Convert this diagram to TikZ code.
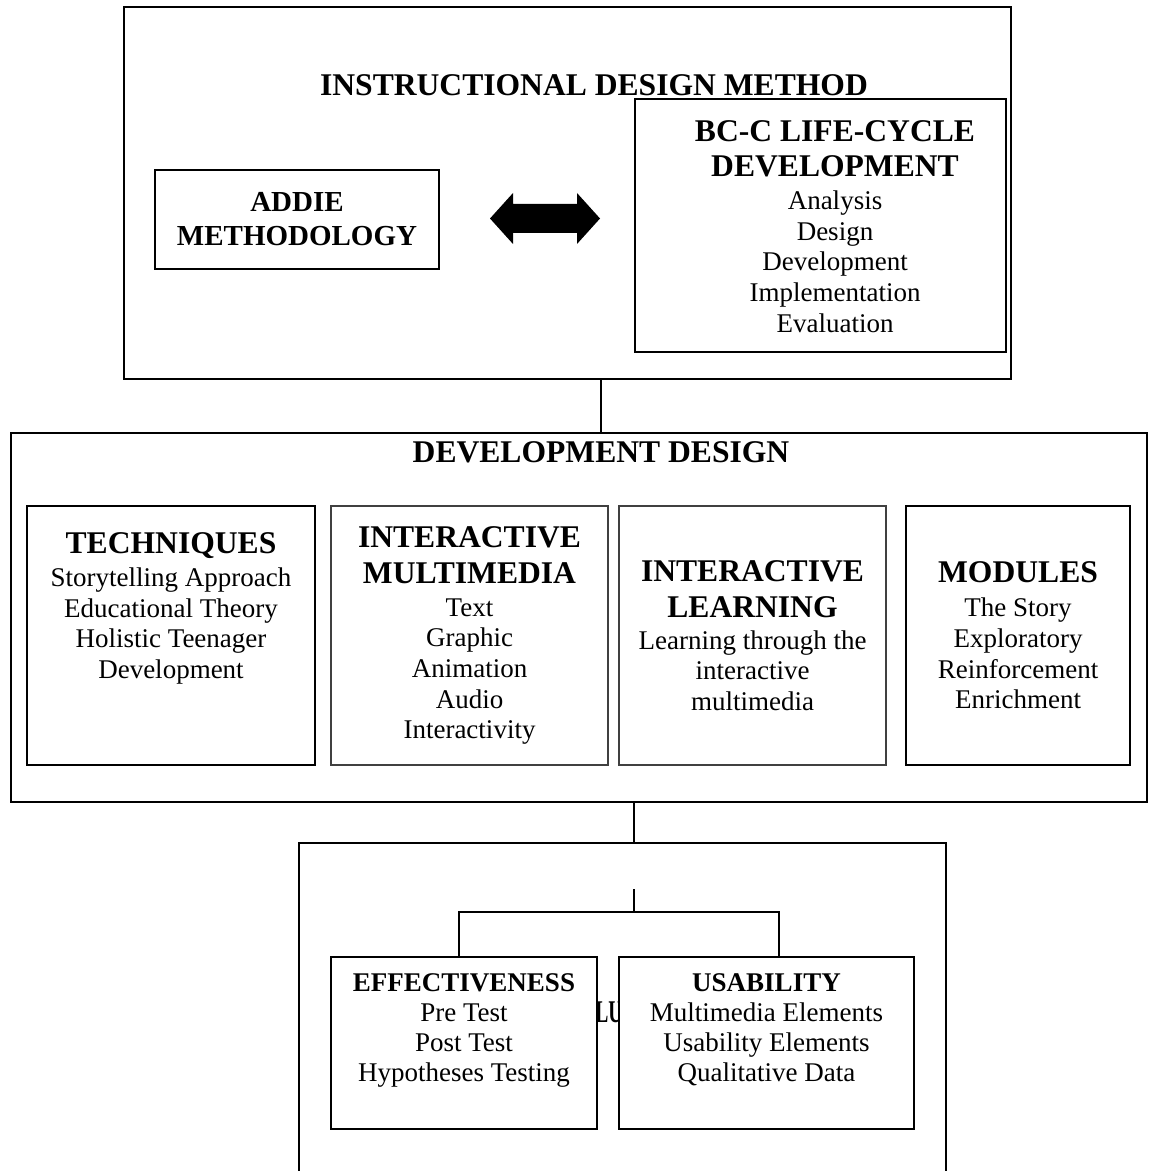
\documentclass[tikz,border=0pt]{standalone}
\usepackage{fontspec}
\setmainfont{Liberation Serif}
\usetikzlibrary{calc}

\newcommand\bodysize{\fontsize{13.5pt}{15.3pt}\selectfont}
\newcommand\headsize{\fontsize{15.8pt}{17.6pt}\selectfont\bfseries}
\newcommand\addiesize{\fontsize{14.5pt}{17pt}\selectfont\bfseries}

\begin{document}
\begin{tikzpicture}[
    x=0.5pt, y=-0.5pt,
    panel/.style={draw, line width=0.75pt, inner sep=0pt},
    box/.style={draw, line width=1pt, fill=white, inner sep=0pt,
                align=center, font=\bodysize},
    thinbox/.style={box, line width=0.55pt, draw=black!75},
    heading/.style={anchor=base, font=\headsize},
    link/.style={line width=1pt}
  ]
  \useasboundingbox[fill=white] (0,0) rectangle (1149,1171);

  % instructional design method
  \node[panel, minimum width=443.5pt, minimum height=186pt] (idm) at (567.5,193) {};
  \node[heading] (idmtitle) at (594,96) {INSTRUCTIONAL DESIGN METHOD};
  \node[box, font=\addiesize, minimum width=142pt, minimum height=49.5pt] (addie) at (297,219.5)
    {ADDIE\\METHODOLOGY};
  \node[box, minimum width=185.5pt, minimum height=126.5pt] (bcc) at (820.5,225.5) {};
  \node[align=center, font=\bodysize] (bcctext) at (835,226.5)
    {{\headsize BC-C LIFE-CYCLE}\\[2.2pt]{\headsize DEVELOPMENT}\\[1.2pt]Analysis\\Design\\Development\\Implementation\\Evaluation};
  \coordinate (swap) at (545,218.5);
  \fill[shift={(swap)}] (-55,0) -- (-32,-25.5) -- (-32,-14.5) -- (32,-14.5) -- (32,-25.5)
    -- (55,0) -- (32,25.5) -- (32,14.5) -- (-32,14.5) -- (-32,25.5) -- cycle;

  % development design
  \node[panel, minimum width=568pt, minimum height=184.5pt] (dd) at (579,617.5) {};
  \node[heading] (ddtitle) at (601,462) {DEVELOPMENT DESIGN};
  \draw[link] (idm.south -| ddtitle) -- (dd.north -| ddtitle);

  \node[box, line width=1.1pt, minimum width=144pt, minimum height=129.5pt] (tech) at (171,635.5)
    {{\headsize TECHNIQUES}\\[1.2pt]Storytelling Approach\\Educational Theory\\Holistic Teenager\\Development\\[14.6pt]\mbox{}};
  \node[thinbox, minimum width=138.5pt, minimum height=129.5pt] (imm) at (469.5,635.5)
    {{\headsize INTERACTIVE}\\[2.7pt]{\headsize MULTIMEDIA}\\[1.2pt]Text\\Graphic\\Animation\\Audio\\Interactivity};
  \node[thinbox, minimum width=133.5pt, minimum height=129.5pt] (ilearn) at (752.5,635.5)
    {{\headsize INTERACTIVE}\\[2.7pt]{\headsize LEARNING}\\[0.7pt]Learning through the\\interactive\\multimedia};
  \node[box, line width=1.1pt, minimum width=112pt, minimum height=129.5pt] (modules) at (1018,635.5)
    {{\headsize MODULES}\\[1.7pt]The Story\\Exploratory\\Reinforcement\\Enrichment};

  % evaluation
  \node[panel, line width=1pt, minimum width=323.5pt, minimum height=168.5pt] (eval) at (622.5,1011.5) {};
  \node[heading, xscale=0.62] (evaltitle) at (609,1022) {LU};
  \coordinate (split) at (634,912);
  \coordinate (stem) at (634,889);
  \draw[link] (dd.south -| split) -- (eval.north -| split);

  \node[box, font=\fontsize{13.5pt}{15pt}\selectfont, minimum width=133pt, minimum height=86pt] (effect) at (464,1043)
    {\textbf{EFFECTIVENESS}\\Pre Test\\Post Test\\Hypotheses Testing\\\mbox{}};
  \node[box, font=\fontsize{13.5pt}{15pt}\selectfont, minimum width=147.5pt, minimum height=86pt] (usab) at (766.5,1043)
    {\textbf{USABILITY}\\Multimedia Elements\\Usability Elements\\Qualitative Data\\\mbox{}};
  \draw[link] (stem) -- (split);
  \draw[link] ($(effect.north)+(-5,0)$) |- (split) -| ($(usab.north)+(12.5,0)$);
\end{tikzpicture}
\end{document}
